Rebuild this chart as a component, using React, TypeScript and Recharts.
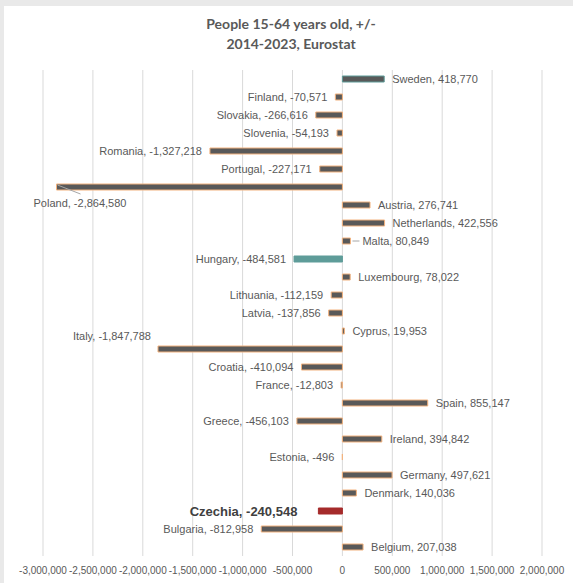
import { Bar, BarChart, CartesianGrid, Cell, LabelList, XAxis, YAxis } from 'recharts';

// change in population aged 15-64, 2014-2023
const countries = [
  'Sweden', 'Finland', 'Slovakia', 'Slovenia', 'Romania', 'Portugal', 'Poland',
  'Austria', 'Netherlands', 'Malta', 'Hungary', 'Luxembourg', 'Lithuania', 'Latvia',
  'Cyprus', 'Italy', 'Croatia', 'France', 'Spain', 'Greece', 'Ireland', 'Estonia',
  'Germany', 'Denmark', 'Czechia', 'Bulgaria', 'Belgium',
];
const changes = [
  418770, -70571, -266616, -54193, -1327218, -227171, -2864580,
  276741, 422556, 80849, -484581, 78022, -112159, -137856,
  19953, -1847788, -410094, -12803, 855147, -456103, 394842, -496,
  497621, 140036, -240548, -812958, 207038,
];
const xTicks = [
  -3000000, -2500000, -2000000, -1500000, -1000000, -500000, 0,
  500000, 1000000, 1500000, 2000000,
];

const data = countries.map((name, i) => ({ name, change: changes[i] }));

const GRAY = '#595959';
const OUTLINE = '#f2b27e';
const TEAL = '#5e9c99';
const RED = '#a52b2b';
const TEXT = '#595959';
const FONT = '"Liberation Sans", Arial, sans-serif';

const fmt = (v: number) => v.toLocaleString('en-US');

function ValueLabel(props: any) {
  const vb = props.viewBox ?? props;
  const index: number = props.index;
  const name = countries[index];
  const value = changes[index];
  const left = Math.min(vb.x, vb.x + vb.width);
  const right = Math.max(vb.x, vb.x + vb.width);
  const cy = vb.y + vb.height / 2;
  const text = `${name}, ${fmt(value)}`;
  const base = { fill: TEXT, fontSize: 11, fontFamily: FONT };

  if (name === 'Poland') {
    return (
      <g>
        <line x1={left + 1} y1={cy - 2} x2={left + 24} y2={cy + 7} stroke="#a6a6a6" strokeWidth={1} />
        <text {...base} x={left - 23} y={cy + 16} textAnchor="start" dominantBaseline="central">
          {text}
        </text>
      </g>
    );
  }
  if (name === 'Italy') {
    return (
      <text {...base} x={left - 7} y={cy - 13} textAnchor="end" dominantBaseline="central">
        {text}
      </text>
    );
  }
  if (name === 'Malta') {
    return (
      <g>
        <line x1={right + 2} y1={cy} x2={right + 9} y2={cy} stroke="#a6a6a6" strokeWidth={1} />
        <text {...base} x={right + 12} y={cy} textAnchor="start" dominantBaseline="central">
          {text}
        </text>
      </g>
    );
  }
  if (name === 'Czechia') {
    // highlighted country
    return (
      <text {...base} fill="#404040" fontSize={13} fontWeight="bold" x={left - 21} y={cy}
        textAnchor="end" dominantBaseline="central">
        {text}
      </text>
    );
  }
  return value >= 0 ? (
    <text {...base} x={right + 8} y={cy} textAnchor="start" dominantBaseline="central">
      {text}
    </text>
  ) : (
    <text {...base} x={left - 8} y={cy} textAnchor="end" dominantBaseline="central">
      {text}
    </text>
  );
}

export default function App() {
  return (
    <div style={{ position: 'absolute', left: 0, top: 0, width: 573, height: 583, background: '#e9e9e9' }}>
      <div style={{ position: 'absolute', left: 4, top: 6, width: 569, height: 577, background: '#fff' }}>
        <div
          style={{
            position: 'absolute',
            left: 0,
            top: 8,
            width: 574,
            textAlign: 'center',
            fontFamily: 'Lato, sans-serif',
            fontWeight: 'bold',
            fontSize: 14,
            lineHeight: '20px',
            color: TEXT,
          }}
        >
          People 15-64 years old, +/-
          <br />
          2014-2023, Eurostat
        </div>
        <BarChart
          width={569}
          height={577}
          data={data}
          layout="vertical"
          margin={{ top: 64, right: 31, left: 39, bottom: 0 }}
          barSize={6}
        >
          <CartesianGrid horizontal={false} stroke="#d9d9d9" />
          <XAxis
            type="number"
            domain={[-3000000, 2000000]}
            ticks={xTicks}
            tickFormatter={fmt}
            axisLine={false}
            tickLine={false}
            height={27}
            tick={{ fill: TEXT, fontSize: 10, fontFamily: FONT, dy: 3 }}
            interval={0}
          />
          <YAxis type="category" dataKey="name" hide />
          <Bar dataKey="change" fill={GRAY} stroke={OUTLINE} strokeWidth={1} isAnimationActive={false}>
            {data.map((d) => (
              <Cell
                key={d.name}
                fill={d.name === 'Hungary' ? TEAL : d.name === 'Czechia' ? RED : GRAY}
                stroke={d.name === 'Sweden' || d.name === 'Hungary' ? TEAL : d.name === 'Czechia' ? RED : OUTLINE}
              />
            ))}
            <LabelList dataKey="change" content={ValueLabel} />
          </Bar>
        </BarChart>
      </div>
    </div>
  );
}
